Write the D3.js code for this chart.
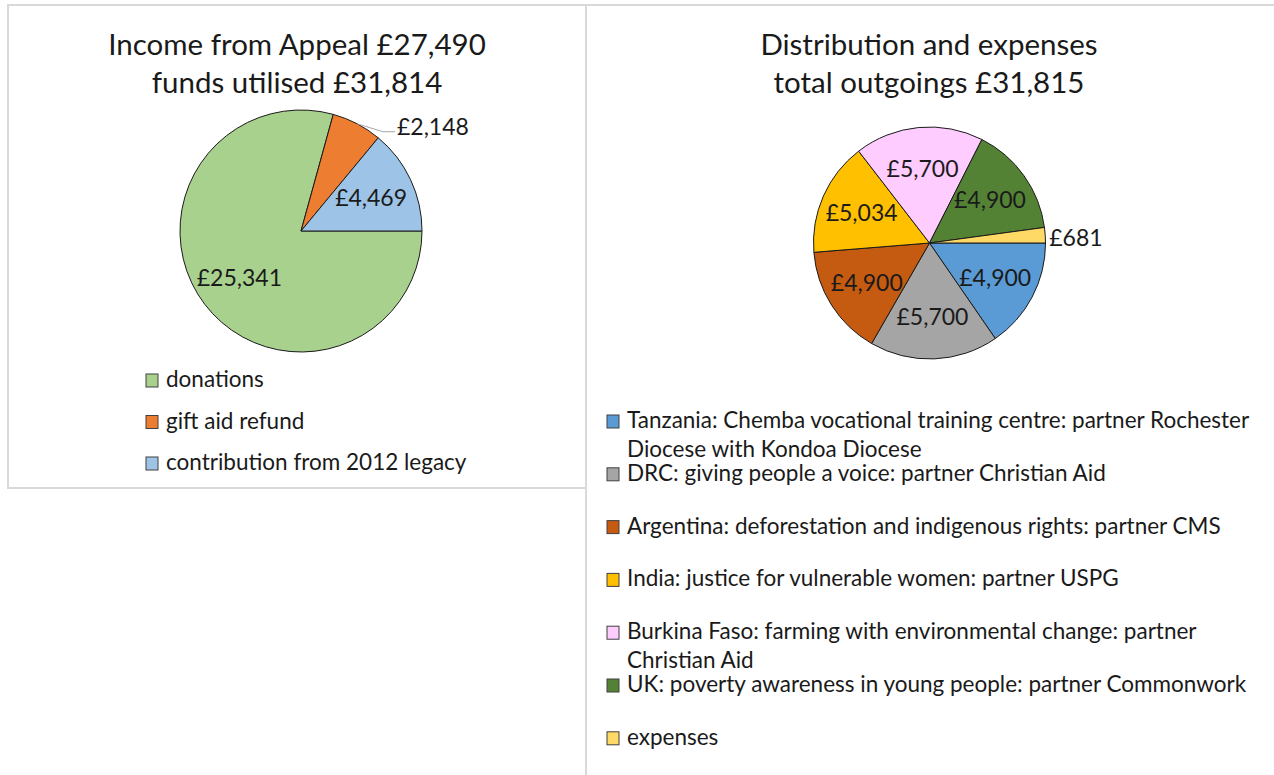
<!DOCTYPE html>
<html>
<head>
<meta charset="utf-8">
<script src="https://cdn.jsdelivr.net/npm/d3@7"></script>
<style>
  body { margin: 0; background: #fff; }
  text { font-family: Lato, "Open Sans", sans-serif; fill: #1a1a1a; }
</style>
</head>
<body>
<svg width="1274" height="775"></svg>
<script>
// income side
var incomeTitle = ['Income from Appeal £27,490', 'funds utilised £31,814'];
var incomeNames = ['donations', 'gift aid refund', 'contribution from 2012 legacy'];
var incomeValues = [25341, 2148, 4469];
var incomeColors = ['#a9d18e', '#ed7d31', '#9dc3e6'];

// outgoings side
var outTitle = ['Distribution and expenses', 'total outgoings £31,815'];
var outNames = [
    'Tanzania: Chemba vocational training centre: partner Rochester Diocese with Kondoa Diocese',
    'DRC: giving people a voice: partner Christian Aid',
    'Argentina: deforestation and indigenous rights: partner CMS',
    'India: justice for vulnerable women: partner USPG',
    'Burkina Faso: farming with environmental change: partner Christian Aid',
    'UK: poverty awareness in young people: partner Commonwork',
    'expenses'
];
var outValues = [4900, 5700, 4900, 5034, 5700, 4900, 681];
var outColors = ['#5b9bd5', '#a5a5a5', '#c55a11', '#ffc000', '#ffccff', '#548235', '#ffd966'];

var svg;
var money = d3.format(',');

document.addEventListener('DOMContentLoaded', function(){
    svg = d3.select('svg');

    // panel frames
    svg.append('rect')
        .attr('x', 8).attr('y', 5)
        .attr('width', 578).attr('height', 483)
        .attr('fill', 'none')
        .attr('stroke', '#d9d9d9')
        .attr('stroke-width', 2);
    svg.append('rect')
        .attr('x', 586).attr('y', 5)
        .attr('width', 700).attr('height', 790)
        .attr('fill', 'none')
        .attr('stroke', '#d9d9d9')
        .attr('stroke-width', 2);

    drawPie({
        cx: 301, cy: 231, r: 121,
        title: incomeTitle, titleX: 297,
        names: incomeNames, values: incomeValues, colors: incomeColors,
        gap: 40, leader: true,
        legendX: 146, legendY: 387, legendStep: 41.5, wrap: 400
    });
    drawPie({
        cx: 929.5, cy: 243, r: 116,
        title: outTitle, titleX: 929,
        names: outNames, values: outValues, colors: outColors,
        gap: 4, leader: false,
        legendX: 607, legendY: 428, legendStep: 52.8, wrap: 632
    });
});

function drawPie(c){
    var g = svg.append('g');

    g.selectAll('.title')
        .data(c.title)
        .join('text')
        .attr('class', 'title')
        .attr('x', c.titleX)
        .attr('y', (d, i) => 55 + i * 38)
        .attr('text-anchor', 'middle')
        .style('font-size', '29.5px')
        .text(d => d);

    var data = c.values.map((v, i) => ({name: c.names[i], value: v, color: c.colors[i]}));
    var pie = d3.pie()
        .sort(null)
        .startAngle(Math.PI / 2)
        .endAngle(Math.PI / 2 + 2 * Math.PI)
        .value(d => d.value);
    var arcs = pie(data);
    var arc = d3.arc().innerRadius(0).outerRadius(c.r);
    var labelArc = d3.arc().innerRadius(c.r * 0.64).outerRadius(c.r * 0.64);

    var pg = g.append('g').attr('transform', 'translate(' + c.cx + ',' + c.cy + ')');
    pg.selectAll('.slice')
        .data(arcs)
        .join('path')
        .attr('class', 'slice')
        .attr('d', arc)
        .attr('fill', d => d.data.color)
        .attr('stroke', '#1a1a1a')
        .attr('stroke-width', 1);

    var small = d => (d.endAngle - d.startAngle) < 0.5;
    var mid = d => (d.startAngle + d.endAngle) / 2;

    pg.selectAll('.inlabel')
        .data(arcs.filter(d => !small(d)))
        .join('text')
        .attr('class', 'inlabel')
        .attr('x', d => labelArc.centroid(d)[0])
        .attr('y', d => labelArc.centroid(d)[1])
        .attr('dy', '0.35em')
        .attr('text-anchor', 'middle')
        .style('font-size', '23px')
        .text(d => '£' + money(d.data.value));

    var outer = arcs.filter(small);
    if(c.leader){
        pg.selectAll('.leader')
            .data(outer)
            .join('polyline')
            .attr('class', 'leader')
            .attr('points', function(d){
                var ax = c.r * Math.sin(mid(d)), ay = -c.r * Math.cos(mid(d));
                var lx = ax + c.gap, ly = ay + 3;
                return [[ax, ay], [lx - 14, ly + 5], [lx - 2, ly + 5]].join(' ');
            })
            .attr('fill', 'none')
            .attr('stroke', '#a6a6a6')
            .attr('stroke-width', 1);
    }
    pg.selectAll('.outlabel')
        .data(outer)
        .join('text')
        .attr('class', 'outlabel')
        .attr('x', d => c.r * Math.sin(mid(d)) + c.gap)
        .attr('y', d => -c.r * Math.cos(mid(d)) + 3)
        .attr('dy', '0.35em')
        .style('font-size', '23px')
        .text(d => '£' + money(d.data.value));

    // legend
    var lg = g.selectAll('.legend')
        .data(data)
        .join('g')
        .attr('class', 'legend')
        .attr('transform', (d, i) => 'translate(' + c.legendX + ',' + (c.legendY + i * c.legendStep) + ')');
    lg.append('rect')
        .attr('x', 0).attr('y', -13)
        .attr('width', 12).attr('height', 13)
        .attr('fill', d => d.color)
        .attr('stroke', '#404040')
        .attr('stroke-width', 1);
    lg.append('text')
        .attr('x', 20)
        .attr('y', 0)
        .style('font-size', '22.5px')
        .each(function(d){ wrapText(d3.select(this), d.name, c.wrap); });
}

function wrapText(t, str, width){
    var words = str.split(' ');
    var line = [];
    var tspan = t.append('tspan').attr('x', 20).attr('dy', 0);
    words.forEach(function(w){
        line.push(w);
        tspan.text(line.join(' '));
        if(tspan.node().getComputedTextLength() > width && line.length > 1){
            line.pop();
            tspan.text(line.join(' '));
            line = [w];
            tspan = t.append('tspan').attr('x', 20).attr('dy', 29).text(w);
        }
    });
}
</script>
</body>
</html>
